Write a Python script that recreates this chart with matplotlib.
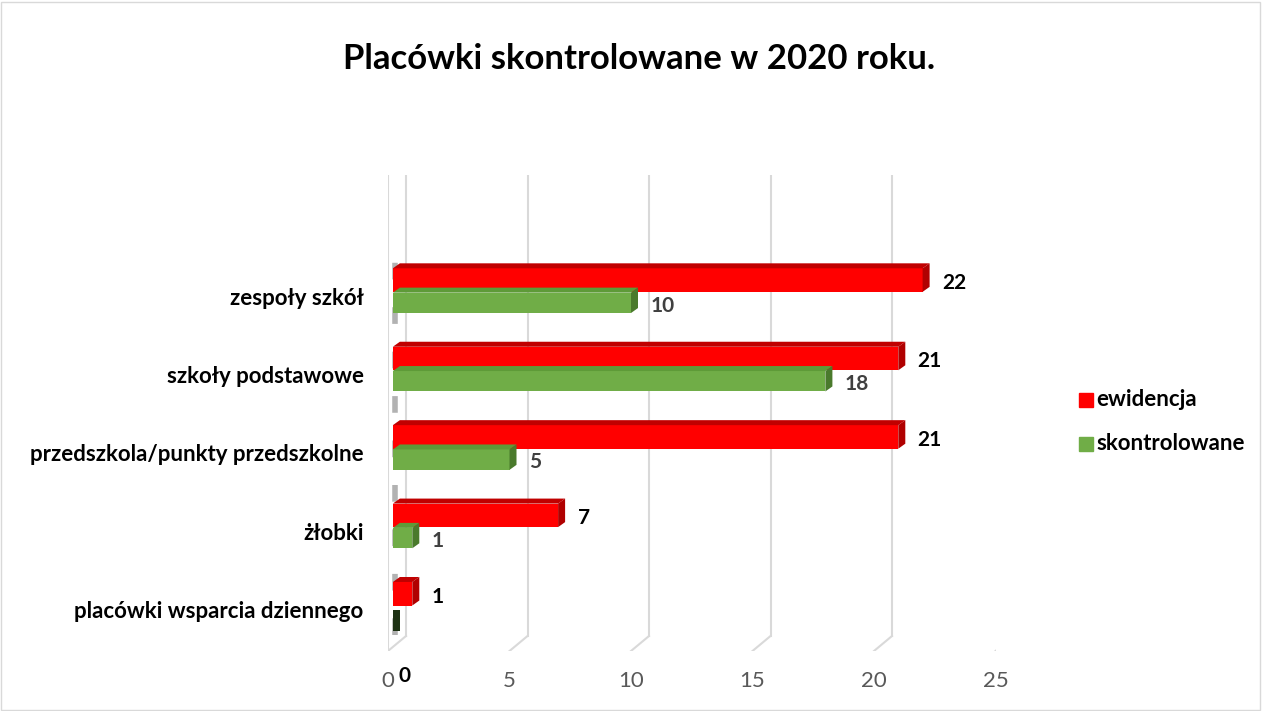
import matplotlib.pyplot as plt
from matplotlib.patches import Polygon, Rectangle
import numpy as np

categories = ["placówki wsparcia dziennego", "żłobki", "przedszkola/punkty przedszkolne",
              "szkoły podstawowe", "zespoły szkół"]
ewidencja = [1, 7, 21, 21, 22]
skontrolowane = [0, 1, 5, 18, 10]
xticks = [0, 5, 10, 15, 20, 25]

plt.rcParams['font.family'] = ['Lato', 'DejaVu Sans']

fig = plt.figure(figsize=(12.63, 7.11), dpi=100)
# axes placed so x=0 sits at px 388 and 25 at px 995
ax = fig.add_axes([388 / 1263, 1 - 651 / 711, (995.5 - 388) / 1263, (651 - 175) / 711])
ax.set_xlim(0, 25)
ax.set_ylim(-0.5, 5.57)
ax.axis('off')

# depth of the fake 3D in data units (about 7px right, 5px up)
dx = 7 / 24.3
dy = 5 / 78.5
gx = 18 / 24.3   # back wall offset for gridlines
gy = 15 / 78.5

# gridlines: vertical on back wall + diagonal floor segment
for t in xticks:
    ax.plot([t + gx, t + gx], [-0.5 + gy, 5.57], color='#d9d9d9', lw=1.5, zorder=0)
    ax.plot([t, t + gx], [-0.5, -0.5 + gy], color='#d9d9d9', lw=1.5, zorder=0)
    ax.text(t, -0.75, str(t), transform=ax.transData, ha='center', va='top',
            fontsize=16, color='#595959')
# left wall edge
ax.plot([0, 0], [-0.5, 5.57], color='#d9d9d9', lw=1.5, zorder=0)
ax.plot([0.3, 0.3], [-0.3, 4.55], color='#7f7f7f', lw=4, ls=(0, (3, 5)), zorder=0.6, alpha=0.6)

y = np.arange(len(categories))
h_red, h_green = 0.30, 0.26
off_red, off_green = 0.23, -0.06


def bar3d(yc, v, h, front, top, side):
    b = yc - h / 2
    t = yc + h / 2
    ax.add_patch(Rectangle((0.2, b), v - 0.2, h, facecolor=front, edgecolor='none', zorder=3))
    ax.add_patch(Polygon([(0.2, t), (v, t), (v + dx, t + dy), (0.2 + dx, t + dy)],
                         closed=True, facecolor=top, edgecolor='none', zorder=3))
    ax.add_patch(Polygon([(v, b), (v, t), (v + dx, t + dy), (v + dx, b + dy)],
                         closed=True, facecolor=side, edgecolor='none', zorder=3))


for i in range(len(categories)):
    yr = y[i] + off_red
    yg = y[i] + off_green
    bar3d(yr, ewidencja[i], h_red, '#ff0000', '#c00000', '#b00000')
    if skontrolowane[i] > 0:
        bar3d(yg, skontrolowane[i], h_green, '#70ad47', '#5e9a38', '#4a7a2c')
        ax.annotate(str(skontrolowane[i]), (skontrolowane[i], yg), xytext=(14, -2),
                    textcoords='offset points', ha='left', va='center',
                    fontsize=15, fontweight='bold', color='#404040')
    else:
        ax.add_patch(Rectangle((0.2, yg - h_green / 2 - 0.05), 0.3, h_green,
                               facecolor='#1e3214', edgecolor='none', zorder=3))
        ax.annotate(str(skontrolowane[i]), (0, -0.5), xytext=(12, -11),
                    textcoords='offset points', ha='center', va='top',
                    fontsize=15, fontweight='bold', color='black')
    ax.annotate(str(ewidencja[i]), (ewidencja[i], yr), xytext=(14, -2),
                textcoords='offset points', ha='left', va='center',
                fontsize=15, fontweight='bold', color='black')
    ax.text(-1.0, y[i], categories[i], ha='right', va='center',
            fontsize=16, fontweight='bold', color='black')

fig.suptitle("Placówki skontrolowane w 2020 roku.", x=0.506, y=0.94,
             fontsize=25, fontweight='bold')

# legend
fig.patches.append(Rectangle((1079 / 1263, 1 - 407 / 711), 14 / 1263, 14 / 711,
                             transform=fig.transFigure, color='#ff0000'))
fig.patches.append(Rectangle((1079 / 1263, 1 - 451 / 711), 14 / 1263, 14 / 711,
                             transform=fig.transFigure, color='#70ad47'))
fig.text(1096 / 1263, 1 - 399 / 711, "ewidencja", fontsize=16, fontweight='bold', va='center')
fig.text(1096 / 1263, 1 - 443 / 711, "skontrolowane", fontsize=16, fontweight='bold', va='center')

# chart border
fig.patches.append(Rectangle((0.001, 0.002), 0.997, 0.995, transform=fig.transFigure,
                             fill=False, edgecolor='#d9d9d9', lw=1))

fig.savefig("out.png", dpi=100)
